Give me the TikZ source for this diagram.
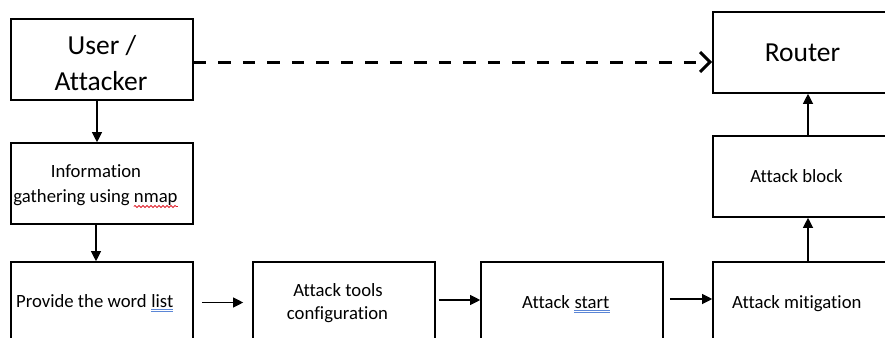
\documentclass[tikz,border=0pt]{standalone}
\usepackage{fontspec}
\setmainfont{Carlito}[Ligatures={NoCommon,NoContextual}]
\usetikzlibrary{arrows.meta,decorations.pathmorphing}

\definecolor{spellblue}{HTML}{5B86D6}
\definecolor{spellred}{HTML}{E0202A}

\tikzset{
  box/.style={draw, line width=1.6pt, minimum width=182pt, minimum height=81pt, inner sep=0pt},
  bigtxt/.style={font=\fontsize{27.5}{35}\selectfont, inner sep=0pt, anchor=base},
  smalltxt/.style={font=\fontsize{18.7}{24}\selectfont, inner sep=0pt, anchor=base},
  wordpart/.style={font=\fontsize{18.7}{24}\selectfont, inner sep=0pt, anchor=base west},
  flow/.style={line width=1.1pt, -{Triangle[length=10pt,width=10pt]}},
  link/.style={line width=3pt, dash pattern=on 12.5pt off 12pt,
    -{Straight Barb[length=10pt,width=20pt,line width=3pt]}},
  dblline/.style={draw=spellblue, line width=0.8pt},
  wavy/.style={draw=spellred, line width=0.8pt,
    decorate, decoration={snake, segment length=4pt, amplitude=1pt}},
}

\begin{document}
\begin{tikzpicture}[x=1pt, y=-1pt]
  \useasboundingbox (0,0) rectangle (885,337);
  \clip (0,0) rectangle (885,337);

  % boxes
  \node[box] (user)   at (102,59.5)  {};
  \node[box] (info)   at (102,183.5) {};
  \node[box] (words)  at (102,302.5) {};
  \node[box] (tools)  at (344,302.5) {};
  \node[box] (start)  at (572,302.5) {};
  \node[box] (mitig)  at (804,302.5) {};
  \node[box] (block)  at (804,176.5) {};
  \node[box] (router) at (804,52.5)  {};

  % labels
  \node[bigtxt] (userA) at (102,55) {User /};
  \node[bigtxt] (userB) at (101,90) {Attacker};
  \node[bigtxt] (routerT) at (802.5,62) {Router};

  \node[smalltxt] (infoA) at (96,177.5) {Information};
  \node[smalltxt] (infoB) at (95.5,202.5) {gathering using nmap};
  \node[smalltxt] (toolsA) at (338,296) {Attack tools};
  \node[smalltxt] (toolsB) at (337.5,319) {configuration};
  \node[smalltxt] (blockT) at (796.5,182) {Attack block};
  \node[wordpart] (mitigT) at (732,308) {Attack mitigation};

  % labels with marked words
  \node[wordpart] (wordsA) at (16,307) {Provide the word\ \null};
  \node[wordpart] (list) at (wordsA.base east) {list};
  \node[wordpart] (startA) at (522,308) {Attack\ \null};
  \node[wordpart] (startW) at (startA.base east) {start};

  % spelling marks under words
  \draw[dblline] ([yshift=-2.6pt]list.base west) -- ([yshift=-2.6pt]list.base east);
  \draw[dblline] ([yshift=-4.8pt]list.base west) -- ([yshift=-4.8pt]list.base east);
  \draw[dblline] ([yshift=-2.6pt]startW.base west) -- ([yshift=-2.6pt]startW.base east);
  \draw[dblline] ([yshift=-4.8pt]startW.base west) -- ([yshift=-4.8pt]startW.base east);
  \draw[wavy] ([xshift=-44pt,yshift=-4pt]infoB.base east) -- ([yshift=-4pt]infoB.base east);

  % connectors
  \draw[flow] ([xshift=-5pt]user.south) -- ([xshift=-5pt]info.north);
  \draw[flow] ([xshift=-6pt]info.south) -- ([xshift=-6pt]words.north);
  \draw[flow] ([xshift=8pt]words.east) -- ([xshift=-9pt]tools.west);
  \draw[flow] ([xshift=3pt,yshift=2.5pt]tools.east) -- ([yshift=2.5pt]start.west);
  \draw[flow] ([xshift=6pt,yshift=3.5pt]start.east) -- ([yshift=3.5pt]mitig.west);
  \draw[flow] ([xshift=4pt]mitig.north) -- ([xshift=4pt]block.south);
  \draw[flow] ([xshift=4pt]block.north) -- ([xshift=4pt]router.south);
  \draw[link] ([yshift=-2.5pt]user.east) -- ([yshift=-2.5pt]user.east -| router.west);
\end{tikzpicture}
\end{document}
